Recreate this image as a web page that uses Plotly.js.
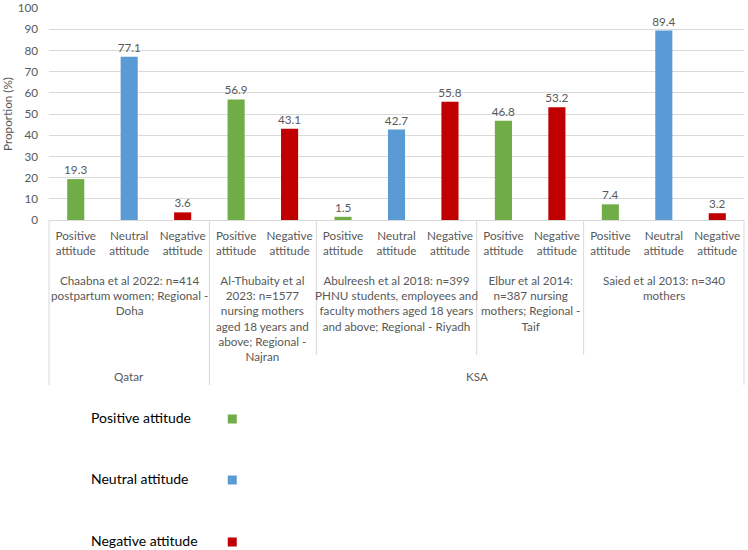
<!DOCTYPE html>
<html>
<head>
<meta charset="utf-8">
<script src="https://cdn.plot.ly/plotly-3.0.1.min.js"></script>
<style>html,body{margin:0;padding:0;background:#fff;}#chart{width:748px;height:550px;}</style>
</head>
<body>
<div id="chart"></div>
<script>
// ---- data ----
const attitudeNames = ['Positive attitude', 'Neutral attitude', 'Negative attitude'];
const attitudeColors = ['#70AD47', '#5B9BD5', '#C00000'];
const studyLabels = [
  'Chaabna et al 2022: n=414<br>postpartum women; Regional -<br>Doha',
  'Al-Thubaity et al<br>2023: n=1577<br>nursing mothers<br>aged 18 years and<br>above; Regional -<br>Najran',
  'Abulreesh et al 2018: n=399<br>PHNU students, employees and<br>faculty mothers aged 18 years<br>and above; Regional - Riyadh',
  'Elbur et al 2014:<br>n=387 nursing<br>mothers; Regional -<br>Taif',
  'Saied et al 2013: n=340<br>mothers'
];
const studyCountry = ['Qatar', 'KSA', 'KSA', 'KSA', 'KSA'];
const countries = ['Qatar', 'KSA'];
const studyAttitudes = [
  ['Positive attitude', 'Neutral attitude', 'Negative attitude'],
  ['Positive attitude', 'Negative attitude'],
  ['Positive attitude', 'Neutral attitude', 'Negative attitude'],
  ['Positive attitude', 'Negative attitude'],
  ['Positive attitude', 'Neutral attitude', 'Negative attitude']
];
const studyValues = [
  [19.3, 77.1, 3.6],
  [56.9, 43.1],
  [1.5, 42.7, 55.8],
  [46.8, 53.2],
  [7.4, 89.4, 3.2]
];
const yTicks = [0, 10, 20, 30, 40, 50, 60, 70, 80, 90, 100];

// ---- build ----
const GRAY = '#595959';
const LINE = '#D9D9D9';
const FONT = 'Lato, "Open Sans", sans-serif';
const FS = 11.7;

const tickvals = [], ticktext = [];
const perAtt = attitudeNames.map(() => ({x: [], y: []}));
const studyStart = [], studyEnd = [];
let idx = 0;
studyAttitudes.forEach((atts, s) => {
  studyStart.push(idx);
  atts.forEach((a, j) => {
    const k = attitudeNames.indexOf(a);
    perAtt[k].x.push(idx);
    perAtt[k].y.push(studyValues[s][j]);
    tickvals.push(idx);
    ticktext.push(a.replace(' ', '<br>'));
    idx++;
  });
  studyEnd.push(idx - 1);
});
const nCat = idx;

const traces = attitudeNames.map((name, k) => ({
  type: 'bar',
  name: name,
  x: perAtt[k].x,
  y: perAtt[k].y,
  width: 0.32,
  marker: {color: attitudeColors[k]},
  text: perAtt[k].y.map(v => v.toFixed(1)),
  textposition: 'outside',
  constraintext: 'none',
  textfont: {family: FONT, size: FS, color: GRAY},
  cliponaxis: false,
  hoverinfo: 'x+y',
  showlegend: false
}));

const annotations = [];
const shapes = [];

// study labels + dividers
studyLabels.forEach((lab, s) => {
  annotations.push({
    xref: 'x', yref: 'paper', x: (studyStart[s] + studyEnd[s]) / 2, y: 0,
    yanchor: 'top', xanchor: 'center', yshift: -51, showarrow: false,
    text: lab, align: 'center',
    font: {family: FONT, size: FS, color: GRAY}
  });
  if (s > 0 && studyCountry[s] === studyCountry[s - 1]) {
    shapes.push({
      type: 'line', xref: 'x', yref: 'paper', x0: studyStart[s] - 0.5, x1: studyStart[s] - 0.5,
      ysizemode: 'pixel', yanchor: 0, y0: 0, y1: -135,
      line: {color: LINE, width: 1}
    });
  }
});

// country labels + dividers
countries.forEach((c, ci) => {
  const members = studyCountry.map((sc, s) => sc === c ? s : -1).filter(s => s >= 0);
  const a = studyStart[members[0]], b = studyEnd[members[members.length - 1]];
  annotations.push({
    xref: 'x', yref: 'paper', x: (a + b) / 2, y: 0,
    yanchor: 'middle', xanchor: 'center', yshift: -156, showarrow: false,
    text: c, font: {family: FONT, size: FS, color: GRAY}
  });
  if (ci > 0) {
    shapes.push({
      type: 'line', xref: 'x', yref: 'paper', x0: a - 0.5, x1: a - 0.5,
      ysizemode: 'pixel', yanchor: 0, y0: 0, y1: -165,
      line: {color: LINE, width: 1}
    });
  }
});
[0, 1].forEach(px => shapes.push({
  type: 'line', xref: 'paper', yref: 'paper', x0: px, x1: px,
  ysizemode: 'pixel', yanchor: 0, y0: 0, y1: -165,
  line: {color: LINE, width: 1}
}));

// custom legend (text left, swatch right)
const legendY = [-197, -258, -320];
attitudeNames.forEach((name, k) => {
  annotations.push({
    xref: 'paper', yref: 'paper', x: 0.058, y: 0, xanchor: 'left', yanchor: 'middle',
    yshift: legendY[k], showarrow: false, text: name,
    font: {family: FONT, size: 14, color: '#000000'}
  });
  shapes.push({
    type: 'rect', xref: 'paper', yref: 'paper',
    xsizemode: 'pixel', xanchor: (232 - 49) / 694, x0: -4.5, x1: 4.5,
    ysizemode: 'pixel', yanchor: 0, y0: legendY[k] - 2 - 4.5, y1: legendY[k] - 2 + 4.5,
    fillcolor: attitudeColors[k], line: {width: 0}
  });
});

const layout = {
  width: 748, height: 550,
  margin: {l: 49, r: 4, t: 8, b: 330, pad: 0},
  paper_bgcolor: '#ffffff', plot_bgcolor: '#ffffff',
  font: {family: FONT, size: FS, color: GRAY},
  barmode: 'overlay',
  showlegend: false,
  xaxis: {
    range: [-0.5, nCat - 0.5],
    tickmode: 'array', tickvals: tickvals, ticktext: ticktext,
    showgrid: false, zeroline: false,
    showline: true, linecolor: LINE, linewidth: 1,
    ticks: '', ticklabelstandoff: 5,
    tickfont: {family: FONT, size: FS, color: GRAY},
    fixedrange: true
  },
  yaxis: {
    range: [0, 100.05], tickmode: 'array', tickvals: yTicks,
    showgrid: true, gridcolor: LINE, gridwidth: 1,
    zeroline: false, showline: false, ticks: '',
    ticklabelstandoff: 10, ticklabeloverflow: 'allow',
    tickfont: {family: FONT, size: FS, color: GRAY},
    title: {text: 'Proportion (%)', font: {family: FONT, size: FS, color: GRAY}, standoff: 4},
    fixedrange: true
  },
  annotations: annotations,
  shapes: shapes
};

Plotly.newPlot('chart', traces, layout, {displayModeBar: false, staticPlot: true});
</script>
</body>
</html>
